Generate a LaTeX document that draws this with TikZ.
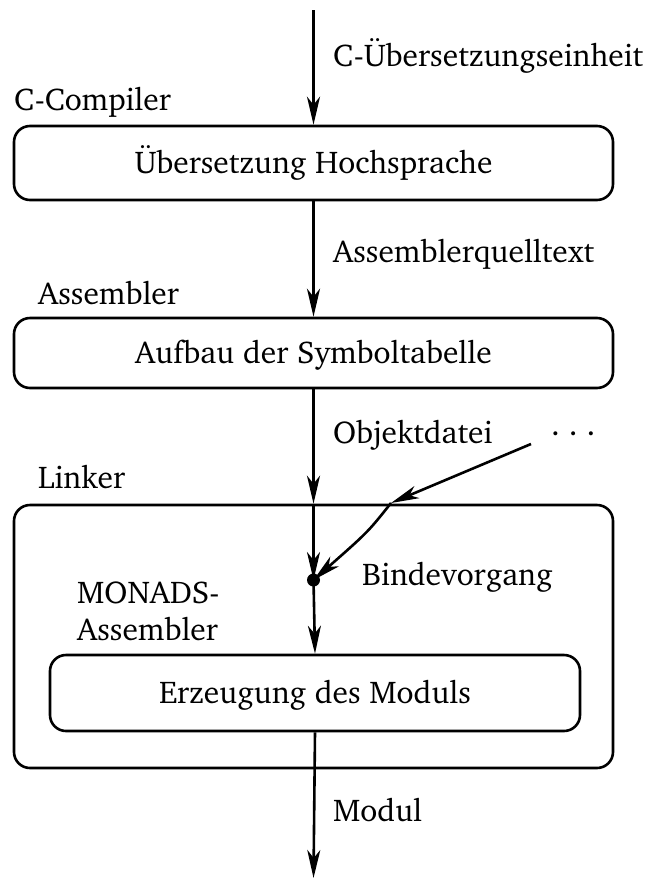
\documentclass[tikz,border=0pt]{standalone}
\usepackage[T1]{fontenc}
\usepackage{charter}
\usetikzlibrary{arrows.meta}
\begin{document}
\begin{tikzpicture}[x=1pt,y=-1pt,
  every node/.style={font=\fontsize{31.5}{38}\selectfont, inner sep=0pt},
  proc/.style={draw, line width=2.6pt, rounded corners=16pt,
    text height=21pt, text depth=0pt},
  arr/.style={line width=2.6pt, -{Stealth[length=28pt,width=13pt,inset=8pt]}},
  lbl/.style={anchor=base west},
  joint/.style={circle, fill, minimum size=13pt, inner sep=0pt}]
\useasboundingbox (0,0) rectangle (649,879);

% processing stages
\node[proc, minimum width=599pt, minimum height=74pt] (hoch) at (313.5,163) {\"Ubersetzung Hochsprache};
\node[proc, minimum width=599pt, minimum height=70pt] (symtab) at (313.5,353) {Aufbau der Symboltabelle};
\node[proc, minimum width=599pt, minimum height=263pt] (linker) at (313.5,636.5) {};
\node[proc, minimum width=530pt, minimum height=76pt] (modgen) at (315,693) {Erzeugung des Moduls};

% junction point and free ends
\node[joint] (bind) at (313.5,580) {};
\coordinate (top) at (313.5,10);
\coordinate (bottom) at (313.5,878);
\coordinate (dstart) at (531,444);
\coordinate (dmid) at (391,503);

% main flow
\draw[arr] (top) -- (hoch.north);
\draw[arr] (hoch.south) -- (symtab.north);
\draw[arr] (symtab.south) -- (linker.north);
\draw[arr] (linker.north) -- (bind.center);
\draw[arr] (bind.center) -- (modgen.north);
\draw[arr] (modgen.south) -- (bottom);

% further object files
\draw[arr] (dstart) -- (dmid);
\draw[arr] (dmid) .. controls (368,532) .. (bind.center);

% labels on the connectors
\node[lbl] (l1) at (333,66) {C-\"Ubersetzungseinheit};
\node[lbl] (l2) at (333,262) {Assemblerquelltext};
\node[lbl] (l3) at (333,443) {Objektdatei};
\node[lbl] (l4) at (551,443) {\raisebox{8pt}{.\hspace{9pt}.\hspace{9pt}.}};
\node[lbl] (l5) at (362,585) {Bindevorgang};
\node[lbl] (l6) at (333,821) {Modul};

% tool names
\node[lbl] (t1) at (14,110) {C-Compiler};
\node[lbl] (t2) at (38,304) {Assembler};
\node[lbl] (t3) at (38,488) {Linker};
\node[lbl] (t4) at (77,603) {MONADS-};
\node[lbl] (t5) at (77,640) {Assembler};
\end{tikzpicture}
\end{document}
